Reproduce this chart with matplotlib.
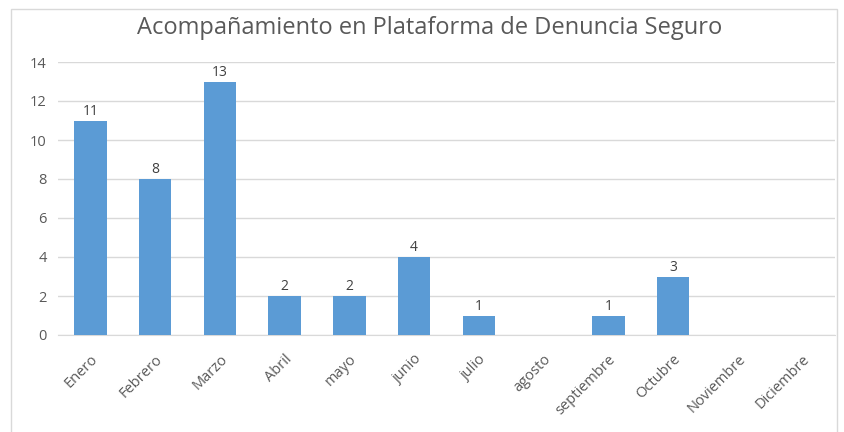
import matplotlib.pyplot as plt
from matplotlib.patches import Rectangle

# data
meses = ['Enero', 'Febrero', 'Marzo', 'Abril', 'mayo', 'junio', 'julio',
         'agosto', 'septiembre', 'Octubre', 'Noviembre', 'Diciembre']
casos = [11, 8, 13, 2, 2, 4, 1, 0, 1, 3, 0, 0]
y_ticks = [0, 2, 4, 6, 8, 10, 12, 14]

plt.rcParams['font.family'] = ['Open Sans', 'DejaVu Sans']

fig = plt.figure(figsize=(8.44, 4.32), dpi=100)
ax = fig.add_axes([58 / 844, 1 - 335 / 432, (835 - 58) / 844, (335 - 62) / 432])

# outer chart border
fig.patches.append(Rectangle((11 / 844, -0.01), (837 - 11) / 844, 1 - 9 / 432 + 0.01,
                             transform=fig.transFigure, fill=False,
                             edgecolor='#D9D9D9', linewidth=1))

x = range(len(meses))
bars = ax.bar(x, casos, width=0.5, color='#5B9BD5', zorder=3)

for i, v in enumerate(casos):
    if v > 0:
        ax.text(i, v + 0.1, str(v), ha='center', va='bottom', fontsize=10, color='#404040')

ax.set_xlim(-0.5, len(meses) - 0.5)
ax.set_ylim(0, 14)
ax.set_yticks(y_ticks)
ax.set_xticks(list(x))
ax.set_xticklabels(meses, rotation=45, ha='right', rotation_mode='anchor')
for lbl in ax.get_xticklabels():
    lbl.set_x(lbl.get_position()[0])
ax.tick_params(axis='both', length=0, labelsize=10.5, colors='#595959')
ax.tick_params(axis='y', pad=8)
ax.tick_params(axis='x', pad=12)

ax.yaxis.grid(True, color='#D9D9D9', linewidth=1, zorder=0)
for edge in ['right', 'top', 'left']:
    ax.spines[edge].set_visible(False)
ax.spines['bottom'].set_color('#D9D9D9')

fig.text(430 / 844, 1 - 28 / 432, 'Acompañamiento en Plataforma de Denuncia Seguro',
         ha='center', va='center', fontsize=17, color='#595959')

fig.savefig('out.png', dpi=100)
